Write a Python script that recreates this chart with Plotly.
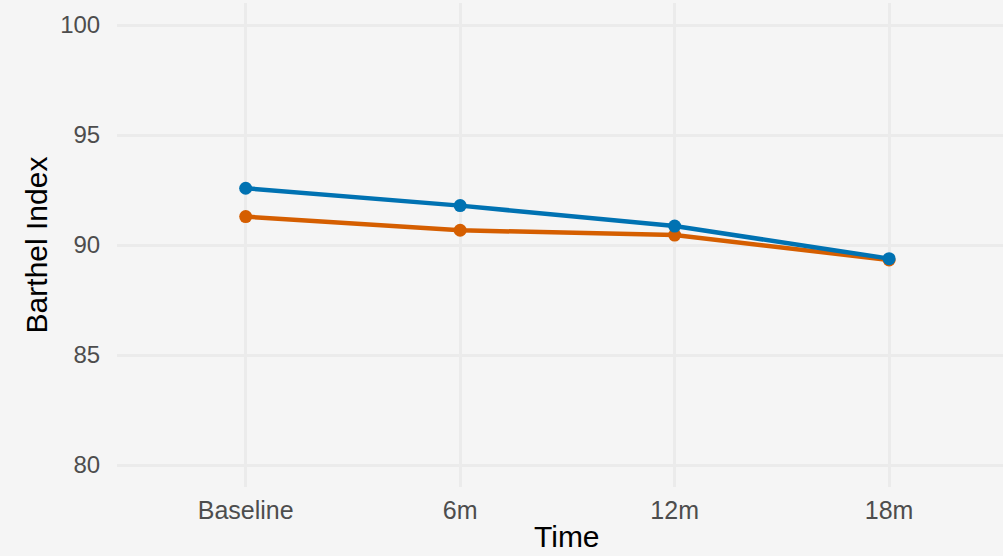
import plotly.graph_objects as go

times = ["Baseline", "6m", "12m", "18m"]
group_orange = [91.29, 90.67, 90.45, 89.32]
group_blue = [92.58, 91.79, 90.86, 89.38]
y_ticks = [80, 85, 90, 95, 100]

fig = go.Figure()
fig.add_trace(go.Scatter(x=times, y=group_orange, mode="lines+markers",
                         line=dict(color="#D55E00", width=4.5),
                         marker=dict(color="#D55E00", size=13), showlegend=False))
fig.add_trace(go.Scatter(x=times, y=group_blue, mode="lines+markers",
                         line=dict(color="#0072B2", width=4.5),
                         marker=dict(color="#0072B2", size=13), showlegend=False))

fig.update_layout(
    width=1003, height=556,
    margin=dict(l=117, r=0, t=3, b=69),
    paper_bgcolor="#f5f5f5", plot_bgcolor="#f5f5f5",
    font=dict(family="Liberation Sans, Arial, sans-serif"),
    xaxis=dict(type="category", categoryorder="array", categoryarray=times,
               range=[-0.6, 3.531], showgrid=True, gridcolor="#ebebeb", gridwidth=2.5,
               zeroline=False, showline=False, ticks="outside", ticklen=1,
               tickcolor="rgba(0,0,0,0)",
               tickfont=dict(size=25, color="#4d4d4d")),
    yaxis=dict(range=[79, 101], tickvals=y_ticks, showgrid=True, gridcolor="#ebebeb",
               gridwidth=2.5, zeroline=False, showline=False, ticks="outside", ticklen=11,
               tickcolor="rgba(0,0,0,0)",
               tickfont=dict(size=24, color="#4d4d4d"),
               title=dict(text="Barthel Index", font=dict(size=30, color="#000000"), standoff=3)),
    annotations=[dict(text="Time", xref="paper", yref="paper", x=0.5079, y=-0.1033,
                      xanchor="center", yanchor="middle", showarrow=False,
                      font=dict(size=30, color="#000000"))],
)

fig.write_html("out.html", post_script="document.body.style.margin='0px';",
               config={"displayModeBar": False})
